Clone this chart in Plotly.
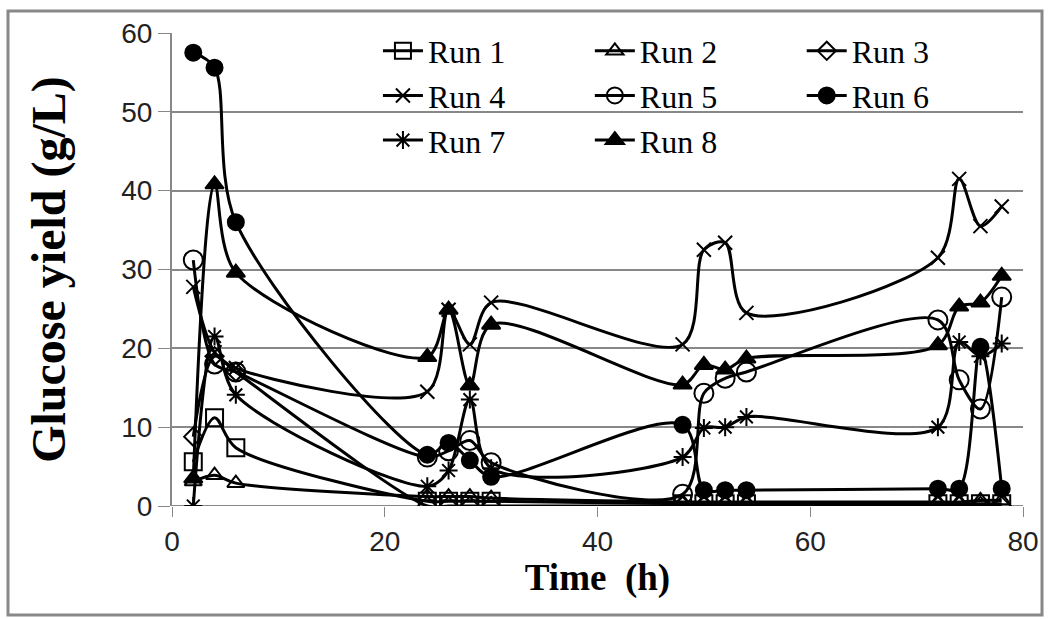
import plotly.graph_objects as go

time_h = [2, 4, 6, 24, 26, 28, 30, 48, 50, 52, 54, 72, 74, 76, 78]

run1 = [5.6, 11.2, 7.4, 0.6, 0.6, 0.6, 0.6, 0.3, 0.3, 0.3, 0.3, 0.3, 0.3, 0.3, 0.3]
run2 = [3.1, 3.9, 2.9, 1.2, 1.2, 1.2, 1.0, 0.5, 0.5, 0.5, 0.5, 0.5, 0.5, 0.7, 0.7]
run3 = [8.8, 19.0, 17.0, 0.0, 0.0, 0.0, 0.0, 0.0, 0.0, 0.0, 0.0, 0.0, 0.0, 0.0, 0.0]
run4 = [27.8, 19.5, 17.5, 14.5, 24.9, 20.5, 25.8, 20.5, 32.5, 33.4, 24.5, 31.5, 41.5, 35.5, 38.0]
run5 = [31.2, 18.0, 17.0, 6.2, 7.0, 8.3, 5.5, 1.5, 14.3, 16.2, 17.0, 23.6, 16.0, 12.3, 26.5]
run6 = [57.5, 55.6, 36.0, 6.5, 8.0, 5.8, 3.7, 10.3, 2.0, 2.0, 2.0, 2.2, 2.2, 20.2, 2.2]
run7 = [0.0, 21.5, 14.1, 2.5, 4.5, 13.5, 4.8, 6.2, 9.9, 10.0, 11.3, 10.0, 20.8, 19.0, 20.6]
run8 = [3.5, 40.8, 29.6, 18.9, 24.9, 15.3, 23.0, 15.4, 17.9, 17.3, 18.7, 20.4, 25.3, 25.8, 29.2]

names = ["Run 1", "Run 2", "Run 3", "Run 4", "Run 5", "Run 6", "Run 7", "Run 8"]
series = [run1, run2, run3, run4, run5, run6, run7, run8]
symbols = ["square-open", "triangle-up-open", "diamond-open", "x-thin-open",
           "circle-open", "circle", "asterisk-open", "triangle-up"]
sizes = [17, 15, 14, 14, 19, 16, 15, 16]
legend_of = ["legend", "legend2", "legend3", "legend", "legend2", "legend3", "legend", "legend2"]

fig = go.Figure()
for i, (nm, ys) in enumerate(zip(names, series)):
    fig.add_trace(go.Scatter(
        x=time_h, y=ys, name=nm, mode="lines+markers",
        line=dict(color="black", width=3, shape="spline", smoothing=0.9),
        marker=dict(symbol=symbols[i], size=sizes[i], color="black",
                    line=dict(color="black", width=2)),
        legend=legend_of[i], legendgroup=nm,
    ))

legend_common = dict(
    font=dict(family="Liberation Serif, Times New Roman, serif", size=32, color="black"),
    bgcolor="rgba(0,0,0,0)", borderwidth=0, orientation="v",
    yanchor="top", y=1.02, xanchor="left", tracegroupgap=0, itemwidth=40,
)
fig.update_layout(
    legend=dict(x=0.242, **legend_common),
    legend2=dict(x=0.491, **legend_common),
    legend3=dict(x=0.740, **legend_common),
)

fig.update_layout(
    width=1050, height=619,
    margin=dict(l=172, r=27, t=33, b=113),
    paper_bgcolor="white", plot_bgcolor="white",
    showlegend=True,
    xaxis=dict(
        range=[0, 80], tickvals=[0, 20, 40, 60, 80], ticks="outside", ticklen=10,
        tickcolor="#888888", showgrid=False, zeroline=False, showline=False,
        tickfont=dict(family="Liberation Sans, Arial, sans-serif", size=28, color="#222222"),
        title=dict(text="<b>Time  (h)</b>", standoff=8,
                   font=dict(family="Liberation Serif, Times New Roman, serif", size=37, color="black")),
    ),
    yaxis=dict(
        range=[0, 60], tickvals=[0, 10, 20, 30, 40, 50, 60], ticks="outside", ticklen=12,
        tickcolor="#888888", showgrid=True, gridcolor="#888888", gridwidth=2,
        zeroline=False, showline=True, linecolor="#888888", linewidth=2,
        tickfont=dict(family="Liberation Sans, Arial, sans-serif", size=28, color="#222222"),
        title=dict(text="<b>Glucose yield (g/L)</b>", standoff=40,
                   font=dict(family="Liberation Serif, Times New Roman, serif", size=48, color="black")),
    ),
)

# outer chart frame
fig.add_shape(type="rect", xref="paper", yref="paper",
              x0=(8 - 172) / 851, x1=(1042 - 172) / 851,
              y0=-(615 - 506) / 473, y1=(506 - 11) / 473,
              line=dict(color="#888888", width=3), fillcolor="rgba(0,0,0,0)", layer="below")
# x axis base line
fig.add_shape(type="line", xref="paper", yref="y", x0=0, x1=1, y0=0, y1=0,
              line=dict(color="#888888", width=2), layer="below")

fig.write_html("out.html", config={"displayModeBar": False},
               post_script="document.body.style.margin='0';")
